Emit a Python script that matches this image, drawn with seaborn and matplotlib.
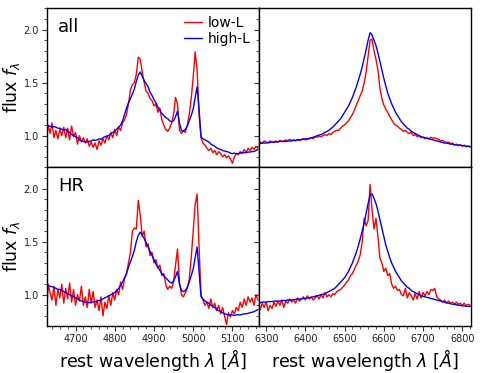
import numpy as np
import pandas as pd
import matplotlib
matplotlib.use("Agg")
import matplotlib.pyplot as plt
from matplotlib.ticker import MultipleLocator
import seaborn as sns

# ---- data ----
lam_blue_start = 4625
lam_red_start = 6280
lam_step = 5

all_hb_high = [1.09, 1.09, 1.09, 1.08, 1.085, 1.08, 1.07, 1.07, 1.06, 1.05, 1.06, 1.04, 1.03, 1.01, 1.0,
               0.99, 0.98, 0.96, 0.95, 0.945, 0.94, 0.94, 0.945, 0.95, 0.96, 0.955, 0.96, 0.97, 0.965, 0.98,
               0.99, 0.995, 1.0, 1.02, 1.03, 1.04, 1.06, 1.08, 1.1, 1.14, 1.2, 1.26, 1.31, 1.35, 1.39,
               1.44, 1.51, 1.57, 1.60, 1.56, 1.52, 1.49, 1.46, 1.41, 1.38, 1.34, 1.31, 1.27, 1.24, 1.21,
               1.19, 1.17, 1.16, 1.14, 1.13, 1.14, 1.18, 1.23, 1.12, 1.05, 1.04, 1.06, 1.09, 1.14, 1.19,
               1.25, 1.36, 1.46, 1.25, 0.99, 0.97, 0.96, 0.95, 0.94, 0.92, 0.91, 0.9, 0.885, 0.875, 0.87,
               0.86, 0.855, 0.85, 0.845, 0.835, 0.83, 0.835, 0.83, 0.83, 0.835, 0.84, 0.84, 0.84, 0.845, 0.845,
               0.85, 0.85, 0.86, 0.87]
all_hb_low = [0.93, 1.10, 1.02, 1.12, 0.98, 1.05, 0.97, 1.06, 1.0, 1.08, 0.98, 1.07, 0.96, 1.09, 0.99,
              1.03, 0.92, 1.0, 0.94, 0.98, 0.93, 0.97, 0.9, 0.94, 0.89, 0.93, 0.87, 0.95, 0.91, 0.97,
              0.93, 1.0, 0.96, 1.03, 0.98, 1.06, 1.0, 1.08, 1.05, 1.12, 1.15, 1.2, 1.3, 1.43, 1.48,
              1.5, 1.58, 1.74, 1.72, 1.6, 1.5, 1.42, 1.4, 1.35, 1.33, 1.28, 1.3, 1.22, 1.26, 1.15,
              1.1, 1.06, 1.04, 1.07, 1.12, 1.2, 1.36, 1.3, 1.05, 1.02, 1.05, 1.03, 1.1, 1.2, 1.35,
              1.55, 1.79, 1.62, 1.2, 0.98, 0.93, 0.91, 0.88, 0.86, 0.88, 0.84, 0.86, 0.82, 0.85, 0.83,
              0.8, 0.82, 0.79, 0.81, 0.78, 0.74, 0.8, 0.83, 0.82, 0.85, 0.83, 0.87, 0.84, 0.88, 0.86,
              0.89, 0.87, 0.9, 0.88]
hr_hb_high = [1.09, 1.085, 1.08, 1.075, 1.07, 1.06, 1.05, 1.05, 1.04, 1.03, 1.02, 1.01, 1.0, 0.99, 0.98,
              0.97, 0.96, 0.95, 0.94, 0.935, 0.93, 0.93, 0.925, 0.93, 0.93, 0.935, 0.94, 0.945, 0.95, 0.96,
              0.97, 0.98, 0.99, 1.0, 1.01, 1.02, 1.04, 1.06, 1.09, 1.12, 1.16, 1.2, 1.26, 1.31, 1.36,
              1.42, 1.5, 1.56, 1.59, 1.56, 1.53, 1.49, 1.45, 1.41, 1.37, 1.33, 1.29, 1.26, 1.23, 1.2,
              1.18, 1.16, 1.14, 1.12, 1.11, 1.13, 1.17, 1.22, 1.1, 1.04, 1.03, 1.04, 1.07, 1.12, 1.18,
              1.24, 1.35, 1.45, 1.22, 0.98, 0.96, 0.94, 0.93, 0.92, 0.9, 0.89, 0.88, 0.86, 0.85, 0.84,
              0.83, 0.82, 0.815, 0.81, 0.81, 0.81, 0.805, 0.81, 0.81, 0.81, 0.815, 0.82, 0.82, 0.825, 0.83,
              0.835, 0.84, 0.85, 0.86]
hr_hb_low = [0.72, 1.1, 1.02, 0.95, 1.08, 0.9, 1.05, 0.97, 1.1, 0.92, 1.06, 0.96, 1.11, 0.93, 1.05,
             0.9, 1.0, 0.94, 1.08, 0.9, 0.98, 0.88, 1.05, 0.92, 1.03, 0.88, 0.95, 0.85, 0.98, 0.8,
             0.93, 0.87, 0.99, 0.9, 1.02, 0.95, 1.05, 1.0, 1.12, 1.05, 1.15, 1.2, 1.3, 1.4, 1.6,
             1.63, 1.62, 1.89, 1.75, 1.55, 1.6, 1.45, 1.48, 1.37, 1.4, 1.3, 1.33, 1.25, 1.28, 1.18,
             1.2, 1.1, 1.05, 1.08, 1.06, 1.12, 1.28, 1.43, 1.12, 1.0, 0.98, 1.02, 1.06, 1.15, 1.35,
             1.6, 1.85, 1.95, 1.45, 1.0, 0.95, 0.9, 0.93, 0.87, 0.96, 0.88, 0.92, 0.85, 0.9, 0.82,
             0.88, 0.8, 0.72, 0.83, 0.79, 0.85, 0.82, 0.88, 0.85, 0.93, 0.88, 0.96, 0.9, 0.98, 0.93,
             0.97, 0.9, 1.0, 0.95]

all_ha_high = [0.925, 0.925, 0.93, 0.93, 0.93, 0.935, 0.935, 0.94, 0.94, 0.94, 0.94, 0.945, 0.945, 0.945, 0.945,
               0.95, 0.95, 0.95, 0.955, 0.955, 0.96, 0.96, 0.965, 0.965, 0.97, 0.97, 0.975, 0.98, 0.985, 0.99,
               1.0, 1.005, 1.01, 1.02, 1.03, 1.04, 1.05, 1.065, 1.08, 1.1, 1.12, 1.14, 1.16, 1.19, 1.22,
               1.25, 1.28, 1.32, 1.36, 1.41, 1.46, 1.52, 1.58, 1.65, 1.73, 1.81, 1.9, 1.97, 1.95, 1.9,
               1.85, 1.78, 1.7, 1.62, 1.54, 1.47, 1.4, 1.35, 1.3, 1.26, 1.22, 1.19, 1.16, 1.13, 1.11,
               1.09, 1.07, 1.06, 1.04, 1.03, 1.02, 1.01, 1.0, 0.99, 0.985, 0.98, 0.975, 0.97, 0.965, 0.96,
               0.955, 0.95, 0.945, 0.94, 0.935, 0.93, 0.93, 0.925, 0.92, 0.92, 0.915, 0.915, 0.91, 0.91, 0.905,
               0.905, 0.9, 0.9, 0.9]
all_ha_low = [0.93, 0.94, 0.93, 0.95, 0.94, 0.93, 0.95, 0.94, 0.935, 0.95, 0.94, 0.955, 0.945, 0.95, 0.96,
              0.95, 0.965, 0.955, 0.96, 0.95, 0.965, 0.955, 0.96, 0.97, 0.96, 0.965, 0.97, 0.98, 0.97, 0.99,
              0.985, 0.995, 0.99, 1.0, 1.01, 1.0, 1.02, 1.01, 1.03, 1.04, 1.05, 1.05, 1.07, 1.09, 1.1,
              1.12, 1.14, 1.17, 1.2, 1.24, 1.29, 1.33, 1.38, 1.42, 1.5, 1.6, 1.75, 1.9, 1.91, 1.8,
              1.72, 1.62, 1.45, 1.35, 1.29, 1.25, 1.22, 1.18, 1.15, 1.12, 1.1, 1.09, 1.07, 1.06, 1.04,
              1.05, 1.03, 1.02, 1.03, 1.0, 1.01, 0.99, 1.0, 0.98, 0.985, 0.97, 0.98, 0.97, 0.985, 0.975,
              0.98, 0.97, 0.965, 0.95, 0.955, 0.94, 0.935, 0.94, 0.925, 0.93, 0.91, 0.92, 0.905, 0.915, 0.9,
              0.91, 0.895, 0.9, 0.89]
hr_ha_high = [0.92, 0.925, 0.93, 0.93, 0.93, 0.935, 0.935, 0.935, 0.94, 0.94, 0.94, 0.94, 0.945, 0.945, 0.945,
              0.95, 0.95, 0.95, 0.955, 0.955, 0.96, 0.96, 0.96, 0.965, 0.965, 0.97, 0.97, 0.975, 0.98, 0.985,
              0.99, 0.995, 1.0, 1.005, 1.01, 1.02, 1.03, 1.04, 1.05, 1.06, 1.08, 1.1, 1.12, 1.14, 1.16,
              1.19, 1.22, 1.26, 1.3, 1.35, 1.4, 1.46, 1.53, 1.6, 1.68, 1.77, 1.86, 1.94, 1.95, 1.91,
              1.86, 1.79, 1.71, 1.63, 1.55, 1.47, 1.41, 1.35, 1.3, 1.26, 1.22, 1.19, 1.16, 1.13, 1.11,
              1.09, 1.07, 1.06, 1.04, 1.03, 1.02, 1.01, 1.0, 0.99, 0.985, 0.98, 0.975, 0.97, 0.965, 0.96,
              0.955, 0.95, 0.945, 0.94, 0.935, 0.93, 0.925, 0.92, 0.915, 0.91, 0.91, 0.905, 0.9, 0.9, 0.895,
              0.895, 0.89, 0.89, 0.89]
hr_ha_low = [0.9, 0.86, 0.92, 0.88, 0.93, 0.85, 0.9, 0.87, 0.93, 0.89, 0.94, 0.9, 0.95, 0.88, 0.94,
             0.92, 0.96, 0.93, 0.95, 0.92, 0.97, 0.94, 0.96, 0.98, 0.95, 0.99, 0.96, 0.98, 0.95, 0.97,
             0.99, 0.96, 1.0, 0.97, 1.02, 0.98, 1.0, 0.98, 1.01, 1.0, 1.03, 1.04, 1.05, 1.07, 1.09,
             1.12, 1.14, 1.18, 1.2, 1.24, 1.28, 1.32, 1.38, 1.5, 1.72, 1.65, 1.7, 2.04, 1.8, 1.62,
             1.72, 1.55, 1.35, 1.3, 1.22, 1.25, 1.18, 1.2, 1.1, 1.06, 1.08, 1.04, 1.05, 1.0, 0.99,
             1.06, 0.97, 1.02, 0.99, 0.95, 1.01, 0.96, 1.03, 0.97, 1.02, 0.99, 1.03, 1.0, 1.05, 1.04,
             1.06, 0.98, 0.96, 0.95, 0.93, 0.95, 0.92, 0.94, 0.92, 0.93, 0.91, 0.93, 0.91, 0.92, 0.9,
             0.92, 0.9, 0.91, 0.9]

row_labels = ["all", "HR"]
series_labels = ["low-L", "high-L"]
series_colors = ["red", "blue"]


def frame(vals, start, sample, lum):
    lam = start + lam_step * np.arange(len(vals))
    return pd.DataFrame({"lam": lam, "flux": vals, "sample": sample, "lum": lum})


panels = {
    (0, 0): [frame(all_hb_low, lam_blue_start, "all", "low-L"), frame(all_hb_high, lam_blue_start, "all", "high-L")],
    (0, 1): [frame(all_ha_low, lam_red_start, "all", "low-L"), frame(all_ha_high, lam_red_start, "all", "high-L")],
    (1, 0): [frame(hr_hb_low, lam_blue_start, "HR", "low-L"), frame(hr_hb_high, lam_blue_start, "HR", "high-L")],
    (1, 1): [frame(hr_ha_low, lam_red_start, "HR", "low-L"), frame(hr_ha_high, lam_red_start, "HR", "high-L")],
}

sns.set_style("ticks")
plt.rcParams["font.family"] = ["DejaVu Sans"]
plt.rcParams["mathtext.fontset"] = "dejavusans"
plt.rcParams["text.color"] = "black"
plt.rcParams["axes.labelcolor"] = "black"

fig, axes = plt.subplots(2, 2, figsize=(4.8, 3.73), dpi=100, sharey=True, sharex="col",
                         gridspec_kw=dict(hspace=0, wspace=0))
fig.subplots_adjust(left=0.0985, right=0.981, top=0.979, bottom=0.126)

palette = dict(zip(series_labels, series_colors))
for (r, c), dfs in panels.items():
    ax = axes[r, c]
    df = pd.concat(dfs, ignore_index=True)
    sns.lineplot(data=df, x="lam", y="flux", hue="lum", palette=palette,
                 hue_order=series_labels, ax=ax, linewidth=1.0, legend=(r == 0 and c == 0),
                 estimator=None, sort=False)
    ax.set_xlabel("")
    ax.set_ylabel("")
    for s in ax.spines.values():
        s.set_visible(True)
        s.set_color("black")
        s.set_linewidth(1.0)
    ax.tick_params(axis="both", which="major", labelsize=7, length=3.5, width=0.8,
                   color="#333333", labelcolor="#222222", pad=2.5)
    ax.tick_params(axis="both", which="minor", length=2, width=0.6, color="#333333")
    ax.xaxis.set_major_locator(MultipleLocator(100))
    ax.xaxis.set_minor_locator(MultipleLocator(20))
    ax.yaxis.set_major_locator(MultipleLocator(0.5))
    ax.yaxis.set_minor_locator(MultipleLocator(0.1))

axes[0, 0].set_xlim(4628, 5168)
axes[0, 1].set_xlim(6282, 6822)
axes[0, 0].set_ylim(0.705, 2.205)

for r in range(2):
    axes[r, 0].set_ylabel(r"flux $f_\lambda$", fontsize=12.5)
    axes[r, 0].yaxis.set_label_coords(-0.12, 0.5)
    axes[r, 0].text(0.05, 0.88, row_labels[r], transform=axes[r, 0].transAxes,
                    fontsize=13, ha="left", va="center")
for c in range(2):
    axes[1, c].set_xlabel(r"rest wavelength $\lambda$ [$\AA$]", fontsize=12.5, labelpad=2)

leg = axes[0, 0].get_legend()
handles, labels = axes[0, 0].get_legend_handles_labels()
leg.remove()
axes[0, 0].legend(handles, labels, loc="upper right", frameon=False, fontsize=10,
                  handlelength=1.3, handletextpad=0.4, borderaxespad=0.2, labelspacing=0.1)

fig.savefig("out.png", dpi=100)
